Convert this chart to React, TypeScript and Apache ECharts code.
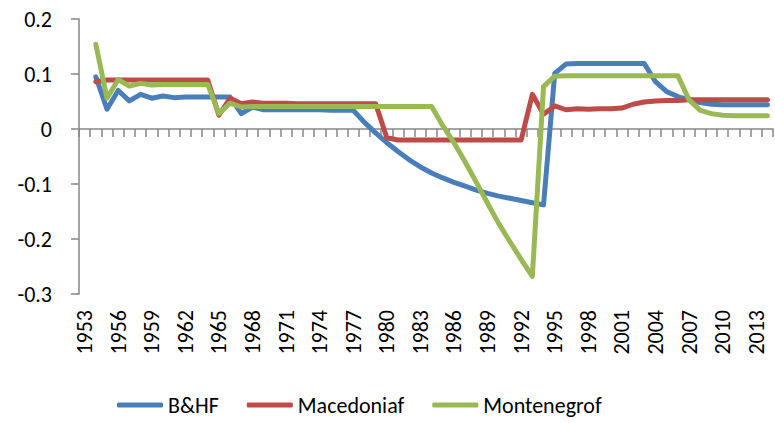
import React, { useEffect, useRef } from "react";
import * as echarts from "echarts";

const years: string[] = [];
for (let y = 1953; y <= 2014; y++) years.push(String(y));

// 1953 has no value; values from 1954 to 2014
const bhf: (number | null)[] = [
  null,
  0.095, 0.036, 0.070, 0.051, 0.063, 0.056, 0.060, 0.057, 0.058, 0.058,
  0.058, 0.058, 0.058, 0.028, 0.040, 0.035, 0.035, 0.035, 0.035, 0.035,
  0.035, 0.034, 0.034, 0.034, 0.012, -0.007, -0.025, -0.041, -0.056, -0.069,
  -0.080, -0.089, -0.097, -0.104, -0.111, -0.117, -0.122, -0.126, -0.130, -0.134,
  -0.138, 0.101, 0.118, 0.119, 0.119, 0.119, 0.119, 0.119, 0.119, 0.119,
  0.086, 0.068, 0.059, 0.053, 0.048, 0.045, 0.044, 0.044, 0.044, 0.044,
  0.044,
];

const macedonia: (number | null)[] = [
  null,
  0.086, 0.089, 0.089, 0.089, 0.089, 0.089, 0.089, 0.089, 0.089, 0.089,
  0.089, 0.025, 0.056, 0.046, 0.049, 0.047, 0.047, 0.047, 0.046, 0.046,
  0.046, 0.046, 0.046, 0.046, 0.046, 0.046, -0.016, -0.020, -0.020, -0.020,
  -0.020, -0.020, -0.020, -0.020, -0.020, -0.020, -0.020, -0.020, -0.020, 0.063,
  0.027, 0.042, 0.035, 0.037, 0.036, 0.037, 0.037, 0.038, 0.045, 0.049,
  0.051, 0.052, 0.052, 0.053, 0.053, 0.053, 0.053, 0.053, 0.053, 0.053,
  0.053,
];

const montenegro: (number | null)[] = [
  null,
  0.154, 0.056, 0.090, 0.078, 0.083, 0.080, 0.081, 0.081, 0.081, 0.081,
  0.081, 0.028, 0.047, 0.040, 0.041, 0.041, 0.041, 0.041, 0.041, 0.041,
  0.041, 0.041, 0.041, 0.041, 0.041, 0.041, 0.041, 0.041, 0.041, 0.041,
  0.041, 0.006, -0.025, -0.060, -0.097, -0.135, -0.172, -0.205, -0.237, -0.268,
  0.077, 0.096, 0.097, 0.097, 0.097, 0.097, 0.097, 0.097, 0.097, 0.097,
  0.097, 0.097, 0.097, 0.053, 0.034, 0.028, 0.025, 0.024, 0.024, 0.024,
  0.024,
];

const seriesNames = ["B&HF", "Macedoniaf", "Montenegrof"];
const colors = ["#4A7EBB", "#BE4B48", "#98B954"];

const FONT = "Carlito, Lato, sans-serif";

export default function App() {
  const ref = useRef<HTMLDivElement>(null);
  useEffect(() => {
    if (!ref.current) return;
    const chart = echarts.init(ref.current, undefined, { renderer: "svg" });
    const data = [bhf, macedonia, montenegro];
    chart.setOption({
      animation: false,
      textStyle: { fontFamily: FONT },
      grid: { left: 79, right: 2, top: 19, bottom: 129, containLabel: false },
      legend: {
        left: 117,
        top: 392,
        padding: 0,
        itemWidth: 46,
        itemHeight: 5,
        itemGap: 28,
        icon: "roundRect",
        textStyle: { fontSize: 22, color: "#000", fontFamily: FONT, lineHeight: 26 },
        data: seriesNames,
      },
      xAxis: [
        {
          type: "category",
          data: years,
          boundaryGap: true,
          position: "bottom",
          axisLine: { show: false, onZero: false },
          axisTick: { show: false },
          axisLabel: {
            rotate: 90,
            interval: 2,
            fontSize: 22,
            color: "#000",
            margin: 16,
            fontFamily: FONT,
          },
          splitLine: { show: false },
        },
        {
          type: "category",
          data: years,
          boundaryGap: true,
          position: "bottom",
          axisLine: { show: true, onZero: true, lineStyle: { color: "#868686", width: 1.5 } },
          axisTick: { show: true, interval: 0, length: 8, lineStyle: { color: "#868686", width: 1.5 } },
          axisLabel: { show: false },
          splitLine: { show: false },
        },
      ],
      yAxis: {
        type: "value",
        min: -0.3,
        max: 0.2,
        interval: 0.1,
        axisLine: { show: true, lineStyle: { color: "#868686", width: 1.5 } },
        axisTick: { show: true, length: 8, lineStyle: { color: "#868686", width: 1.5 } },
        splitLine: { show: false },
        axisLabel: {
          fontSize: 22,
          color: "#000",
          margin: 27,
          fontFamily: FONT,
          formatter: (v: number) => {
            const r = Math.round(v * 10) / 10;
            return r === 0 ? "0" : r.toFixed(1);
          },
        },
      },
      series: seriesNames.map((name, i) => ({
        name,
        type: "line",
        xAxisIndex: 0,
        data: data[i],
        symbol: "none",
        color: colors[i],
        lineStyle: { width: 5, color: colors[i], cap: "round", join: "round" },
      })),
    });
    return () => chart.dispose();
  }, []);
  return (
    <div
      ref={ref}
      style={{ position: "fixed", left: 0, top: 0, width: 775, height: 423, background: "#fff" }}
    />
  );
}
